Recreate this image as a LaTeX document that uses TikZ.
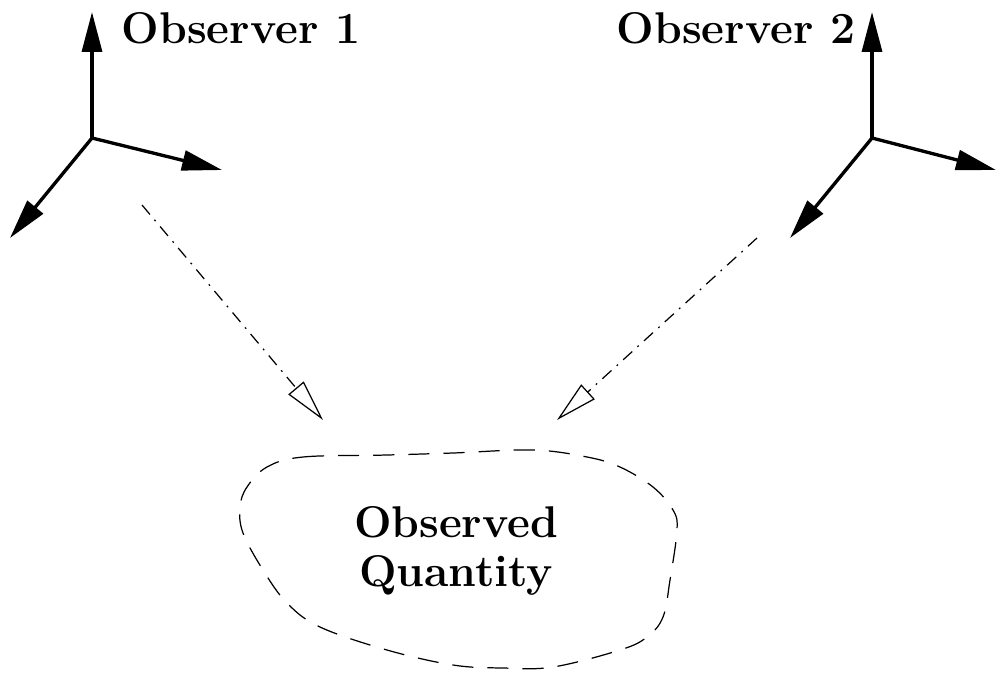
\documentclass[tikz,border=0pt]{standalone}
\usepackage{amsmath}
\usepackage{tikz}
\usetikzlibrary{arrows.meta}

\tikzset{
  axis/.style={line width=1.9pt, -{Triangle[length=0.8cm,width=0.4cm]}},
  sight/.style={line width=0.7pt, dash pattern=on 7pt off 4pt on 1pt off 4pt,
    -{Triangle[open,length=0.84cm,width=0.4cm]}},
  biglabel/.style={font=\fontsize{25.3}{28}\selectfont\bfseries, align=center, inner sep=0pt}
}

\begin{document}
\begin{tikzpicture}[x=0.02cm,y=-0.02cm]
\useasboundingbox (0,0) rectangle (996,673);

% observer 1
\coordinate (o1) at (92,138);
\coordinate (o1up) at (92,12);
\coordinate (o1right) at (222,170);
\coordinate (o1down) at (10,238);
\draw[axis] (o1) -- (o1up);
\draw[axis] (o1) -- (o1right);
\draw[axis] (o1) -- (o1down);
\node[biglabel] (obs1) at (241,28) {Observer 1};

% observer 2
\coordinate (o2) at (872,138);
\coordinate (o2up) at (872,12);
\coordinate (o2right) at (996,170);
\coordinate (o2down) at (790,238);
\draw[axis] (o2) -- (o2up);
\draw[axis] (o2) -- (o2right);
\draw[axis] (o2) -- (o2down);
\node[biglabel] (obs2) at (736,28) {Observer 2};

% observed quantity
\draw[line width=0.7pt, dash pattern=on 12pt off 8pt] plot[smooth cycle, tension=0.6] coordinates {
  (267,467) (303,457) (387,455) (453,453) (533,450) (587,457) (620,467) (653,487)
  (673,510) (677,530) (670,580) (663,617) (647,637) (620,650) (553,667) (503,668)
  (453,665) (387,650) (320,627) (287,603) (263,570) (243,533) (240,507) (247,487)};
\node[biglabel] (qty) at (456,551) {Observed\\Quantity};

% lines of sight
\coordinate (s1) at (142,205);
\coordinate (t1) at (323,420);
\coordinate (s2) at (757,238);
\coordinate (t2) at (557,420);
\draw[sight] (s1) -- (t1);
\draw[sight] (s2) -- (t2);
\end{tikzpicture}
\end{document}
